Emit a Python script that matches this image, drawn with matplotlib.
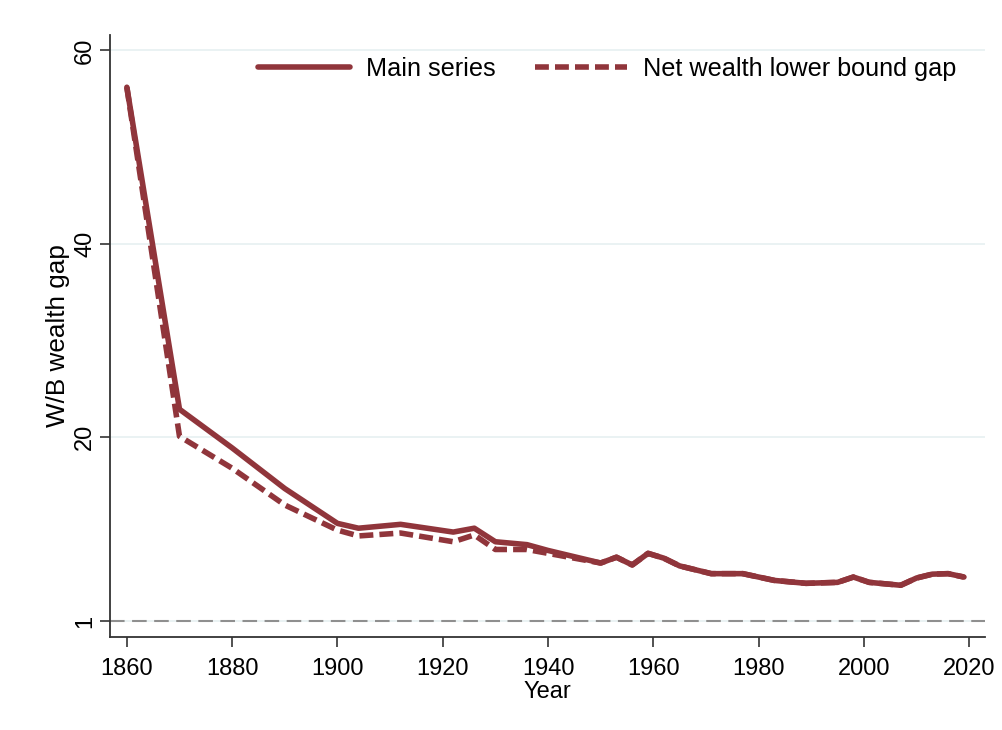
import matplotlib
matplotlib.use("Agg")
import matplotlib.pyplot as plt

# Data
main_years = [1860, 1870, 1880, 1890, 1900, 1904, 1912, 1922, 1926, 1930, 1936, 1940,
              1950, 1953, 1956, 1959, 1962, 1965, 1968, 1971, 1977, 1983, 1989, 1995,
              1998, 2001, 2007, 2010, 2013, 2016, 2019]
main_vals = [56.2, 22.9, 18.9, 14.7, 11.1, 10.6, 11.0, 10.2, 10.6, 9.2, 8.9, 8.3,
             7.0, 7.6, 6.8, 8.0, 7.5, 6.7, 6.3, 5.9, 5.9, 5.2, 4.9, 5.0,
             5.55, 5.0, 4.7, 5.45, 5.85, 5.9, 5.55]

lb_years = [1860, 1870, 1880, 1890, 1900, 1904, 1912, 1922, 1926, 1930, 1936, 1940,
            1945, 1950, 1953, 1956, 1959, 1962, 1965, 1968, 1971, 1977, 1983, 1989,
            1995, 1998, 2001, 2007, 2010, 2013, 2016, 2019]
lb_vals = [56.2, 20.1, 16.8, 13.0, 10.4, 9.8, 10.1, 9.2, 9.9, 8.4, 8.4, 8.0,
           7.5, 7.0, 7.6, 6.8, 8.0, 7.5, 6.7, 6.3, 5.9, 5.9, 5.2, 4.9,
           5.0, 5.55, 5.0, 4.7, 5.45, 5.85, 5.9, 5.55]

x_ticks = [1860, 1880, 1900, 1920, 1940, 1960, 1980, 2000, 2020]
y_ticks = [1, 20, 40, 60]

plt.rcParams['font.family'] = ['Liberation Sans', 'DejaVu Sans']

color = '#90353B'
fig = plt.figure(figsize=(10.02, 7.30), dpi=100)
ax = fig.add_axes([110/1002, 1-637/730, (985-110)/1002, (637-35)/730])

for y in y_ticks:
    ax.axhline(y, color='#e8f1f2', lw=1.3, zorder=0)
ax.axhline(1, color='#8f8f8f', lw=1.5, dashes=(7, 3.6), zorder=1)

ax.plot(main_years, main_vals, color=color, lw=4.0, solid_capstyle='round',
        solid_joinstyle='round', label='Main series', zorder=3)
ax.plot(lb_years, lb_vals, color=color, lw=4.0, dashes=(2.5, 1.1),
        label='Net wealth lower bound gap', zorder=4)

ax.set_xlim(1856.8, 2023.0)
ax.set_ylim(-0.65, 61.6)
ax.set_xticks(x_ticks)
ax.set_yticks(y_ticks)
ax.set_yticklabels([str(v) for v in y_ticks], rotation=90, va='center')
ax.tick_params(axis='both', labelsize=17, length=7, width=1.2, color='#333333')
ax.tick_params(axis='x', pad=8)
ax.tick_params(axis='y', pad=3)

for s in ['top', 'right']:
    ax.spines[s].set_visible(False)
for s in ['left', 'bottom']:
    ax.spines[s].set_color('#333333')
    ax.spines[s].set_linewidth(1.3)

ax.set_xlabel('Year', fontsize=17, labelpad=1)
ax.set_ylabel('W/B wealth gap', fontsize=18.8, labelpad=3)

leg = ax.legend(loc='center left', bbox_to_anchor=(0.1691, 0.9435), ncol=2, frameon=False,
                fontsize=18.2, handlelength=3.64, columnspacing=1.58, handletextpad=0.63,
                borderpad=0, borderaxespad=0)

fig.savefig('out.png', dpi=100)
